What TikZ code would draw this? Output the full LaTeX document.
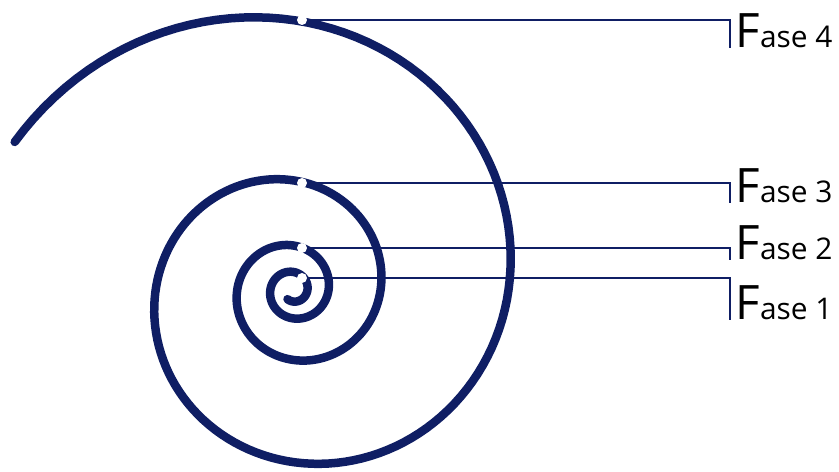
\documentclass[tikz,border=0pt]{standalone}
\usepackage{fontspec}
\setmainfont{Open Sans}
\definecolor{spiralcolor}{HTML}{0F1E64}
\tikzset{
  spiral/.style={
    draw=#1,
    line width=0.17cm,
    line cap=round,
    line join=round
  },
  marker/.style={circle, fill=white, inner sep=0pt, minimum size=0.2cm},
  leader/.style={draw=#1, line width=0.7pt},
  phase/.style={
    anchor=base west,
    inner xsep=3pt,
    inner ysep=0pt,
    text=black,
    font=\fontsize{17}{19}\selectfont
  }
}
\newcommand{\phasecap}{{\fontsize{27}{29}\selectfont F}}

\begin{document}
\begin{tikzpicture}[x=0.02cm, y=0.02cm]
  \path[use as bounding box] (0,0) rectangle (839,472);

  % logarithmic spiral, centre (293,182)
  \draw[spiral=spiralcolor] plot[domain=-1201:152, samples=500, variable=\t]
    ({293 + 215.5*exp(0.0025046*\t)*cos(\t)},
     {182 + 215.5*exp(0.0025046*\t)*sin(\t)});

  \node[marker] (mark4) at (302,452) {};
  \node[marker] (mark3) at (302,289) {};
  \node[marker] (mark2) at (302,224) {};
  \node[marker] (mark1) at (302,194) {};

  \node[phase] (fase4) at (730,424) {\phasecap ase 4};
  \node[phase] (fase3) at (730,269) {\phasecap ase 3};
  \node[phase] (fase2) at (730,212) {\phasecap ase 2};
  \node[phase] (fase1) at (730,152) {\phasecap ase 1};

  \draw[leader=spiralcolor] (mark4) -| (fase4.base west);
  \draw[leader=spiralcolor] (mark3) -| (fase3.base west);
  \draw[leader=spiralcolor] (mark2) -| (fase2.base west);
  \draw[leader=spiralcolor] (mark1) -| (fase1.base west);
\end{tikzpicture}
\end{document}
